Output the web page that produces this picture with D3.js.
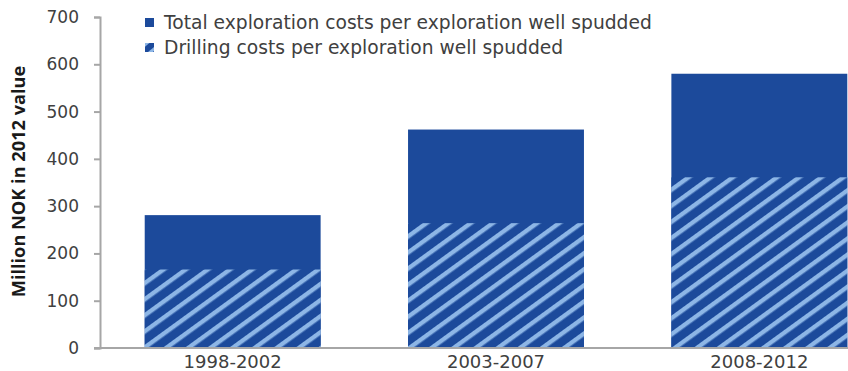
<!DOCTYPE html>
<html>
<head>
<meta charset="utf-8">
<script src="https://cdn.jsdelivr.net/npm/d3@7"></script>
<style>
  html, body { margin: 0; padding: 0; background: #fff; }
  svg { display: block; }
  text { font-family: "DejaVu Sans", sans-serif; fill: #404040; }
</style>
</head>
<body>
<div id="chart"></div>
<script>
// Exploration costs per exploration well spudded, million NOK (2012 value)
const periods = ["1998-2002", "2003-2007", "2008-2012"];
const totalCosts = [281, 462, 580];
const drillingCosts = [166, 264, 361];
const yTicks = [0, 100, 200, 300, 400, 500, 600, 700];
const seriesNames = [
  "Total exploration costs per exploration well spudded",
  "Drilling costs per exploration well spudded"
];

const W = 848, H = 371;
const margin = { left: 101, top: 17, bottom: 23 };
const plotBottom = H - margin.bottom;

const svg = d3.select("#chart").append("svg")
  .attr("width", W).attr("height", H);

const dark = "#1c4a9b";
const light = "#8db6e6";
const axisGrey = "#a6a6a6";

// Diagonal stripe pattern for the drilling share
const defs = svg.append("defs");
const pat = defs.append("pattern")
  .attr("id", "stripes")
  .attr("patternUnits", "userSpaceOnUse")
  .attr("width", 13).attr("height", 13)
  .attr("patternTransform", "rotate(-36)");
pat.append("rect").attr("width", 13).attr("height", 13).attr("fill", dark);
pat.append("rect").attr("x", 0).attr("y", 0).attr("width", 13).attr("height", 4.4).attr("fill", light);

const lp = defs.append("pattern")
  .attr("id", "legendStripes")
  .attr("patternUnits", "userSpaceOnUse")
  .attr("width", 9).attr("height", 9)
  .attr("patternTransform", "rotate(-40)");
lp.append("rect").attr("width", 9).attr("height", 9).attr("fill", dark);
lp.append("rect").attr("width", 9).attr("height", 3).attr("fill", light);

const x = d3.scaleBand().domain(periods).range([margin.left, 891]).paddingInner(0.332).paddingOuter(0.166);
const y = d3.scaleLinear().domain([0, 700]).range([plotBottom, margin.top]);

// Bars: total cost, then hatched drilling portion drawn over its lower part
svg.append("g").selectAll("rect").data(periods).join("rect")
  .attr("x", d => x(d)).attr("width", x.bandwidth())
  .attr("y", (d, i) => y(totalCosts[i]))
  .attr("height", (d, i) => y(0) - y(totalCosts[i]))
  .attr("fill", dark);

svg.append("g").selectAll("rect").data(periods).join("rect")
  .attr("x", d => x(d)).attr("width", x.bandwidth())
  .attr("y", (d, i) => y(drillingCosts[i]))
  .attr("height", (d, i) => y(0) - y(drillingCosts[i]))
  .attr("fill", "url(#stripes)");

// Y axis
const yAxis = svg.append("g")
  .attr("transform", `translate(${margin.left - 1},0)`)
  .call(d3.axisLeft(y).tickValues(yTicks).tickSize(6).tickPadding(15));
yAxis.select(".domain").attr("stroke", axisGrey).attr("stroke-width", 2);
yAxis.selectAll(".tick line").attr("stroke", axisGrey).attr("stroke-width", 2);
yAxis.selectAll(".tick text").style("font-size", "17px").style("fill", "#404040")
  .style("font-family", "'DejaVu Sans', sans-serif");

// X baseline and category labels
const xAxis = svg.append("g")
  .attr("transform", `translate(0,${plotBottom})`)
  .call(d3.axisBottom(x).tickSize(0).tickPadding(7));
xAxis.select(".domain").remove();
xAxis.append("line")
  .attr("x1", margin.left - 7).attr("x2", W).attr("y1", 0).attr("y2", 0)
  .attr("stroke", axisGrey).attr("stroke-width", 2);
xAxis.selectAll(".tick text").style("font-size", "18px").style("fill", "#404040")
  .style("font-family", "'DejaVu Sans', sans-serif");

// Y axis title
svg.append("text")
  .attr("transform", `translate(25,${181.5}) rotate(-90)`)
  .attr("text-anchor", "middle")
  .style("font-family", "'Open Sans', sans-serif")
  .style("font-size", "18.2px").style("font-weight", "bold")
  .style("fill", "#1a1a1a")
  .text("Million NOK in 2012 value");

// Legend
const legend = svg.append("g");
const fills = [dark, "url(#legendStripes)"];
seriesNames.forEach((name, i) => {
  const ly = 18 + i * 25;
  legend.append("rect")
    .attr("x", 145).attr("y", ly).attr("width", 9).attr("height", 9)
    .attr("fill", fills[i]);
  legend.append("text")
    .attr("x", 164).attr("y", ly + 11)
    .style("font-size", "18.7px")
    .text(name);
});
</script>
</body>
</html>
